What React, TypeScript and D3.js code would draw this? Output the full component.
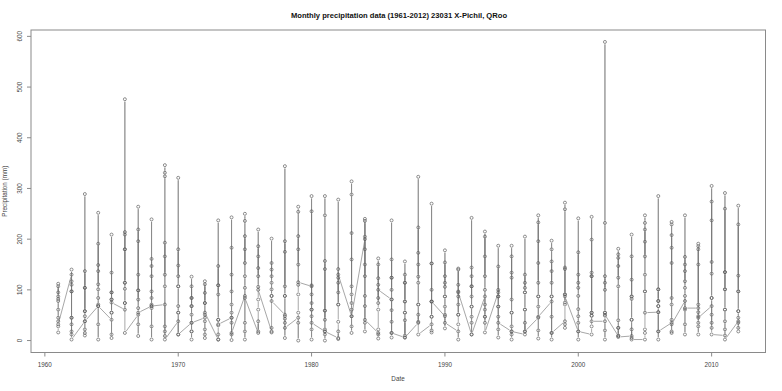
import React, { useEffect, useRef } from 'react';
import * as d3 from 'd3';

// monthly totals (mm), Jan..Dec, one row per year
const rain1960s = [
  [16, 28, 38, 61, 78, 107, 87, 112, 95, 82, 45, 32],
  [130, 18, 12, 32, 45, 140, 117, 97, 110, 97, 45, 2],
  [38, 22, 10, 15, 48, 137, 58, 104, 289, 104, 58, 38],
  [68, 32, 2, 71, 84, 191, 137, 111, 252, 149, 101, 68],
  [41, 12, 5, 55, 81, 134, 95, 81, 209, 95, 55, 75],
  [61, 74, 102, 114, 180, 214, 209, 114, 476, 180, 74, 15],
  [51, 32, 9, 64, 99, 219, 130, 81, 264, 196, 99, 55],
  [68, 28, 2, 64, 97, 161, 127, 84, 239, 147, 71, 68],
  [71, 18, 9, 28, 107, 193, 130, 166, 331, 346, 324, 2],
];
const rain1970s = [
  [38, 12, 55, 68, 107, 180, 127, 148, 321, 107, 55, 12],
  [35, 18, 2, 18, 51, 126, 84, 68, 107, 84, 68, 35],
  [45, 22, 12, 5, 38, 117, 74, 94, 111, 74, 51, 55],
  [2, 12, 2, 30, 41, 147, 91, 109, 237, 109, 41, 32],
  [45, 12, 1, 35, 55, 183, 97, 130, 243, 71, 45, 15],
  [88, 35, 18, 2, 104, 206, 153, 180, 250, 236, 127, 84],
  [15, 38, 18, 61, 81, 186, 143, 127, 219, 166, 106, 100],
  [18, 25, 16, 88, 114, 153, 127, 140, 201, 101, 88, 78],
  [51, 35, 5, 43, 88, 196, 107, 175, 344, 88, 48, 25],
  [45, 35, 0, 55, 91, 206, 150, 180, 264, 254, 110, 115],
];
const rain1980s = [
  [107, 22, 2, 48, 61, 255, 91, 74, 285, 109, 61, 35],
  [18, 12, 0, 22, 59, 157, 141, 41, 285, 247, 59, 18],
  [5, 18, 3, 37, 71, 141, 114, 95, 278, 124, 71, 130],
  [48, 28, 15, 61, 91, 212, 160, 107, 314, 288, 74, 48],
  [200, 68, 18, 35, 88, 236, 150, 127, 240, 205, 180, 41],
  [15, 12, 4, 22, 61, 150, 110, 84, 162, 123, 74, 100],
  [81, 15, 6, 37, 81, 160, 124, 100, 237, 124, 60, 15],
  [6, 40, 10, 55, 77, 130, 114, 77, 156, 114, 55, 6],
  [35, 51, 37, 71, 114, 223, 150, 126, 323, 173, 71, 12],
  [32, 16, 20, 47, 77, 152, 100, 77, 270, 152, 47, 77],
];
const rain1990s = [
  [48, 24, 51, 67, 87, 154, 114, 106, 178, 127, 87, 35],
  [18, 2, 32, 51, 71, 140, 110, 87, 142, 97, 51, 95],
  [12, 35, 47, 67, 107, 144, 127, 87, 242, 107, 67, 12],
  [87, 35, 47, 61, 100, 205, 166, 127, 215, 71, 47, 16],
  [95, 22, 6, 47, 67, 146, 100, 87, 187, 87, 67, 35],
  [18, 12, 2, 28, 55, 166, 124, 81, 187, 134, 55, 18],
  [12, 35, 18, 61, 95, 130, 114, 104, 205, 95, 61, 18],
  [45, 4, 20, 67, 87, 233, 153, 114, 247, 196, 87, 47],
  [77, 15, 2, 47, 87, 156, 137, 114, 197, 180, 87, 15],
  [38, 25, 32, 71, 91, 141, 144, 91, 272, 259, 75, 87],
];
const rain2000s = [
  [18, 2, 35, 48, 62, 174, 130, 104, 241, 114, 88, 18],
  [12, 28, 49, 55, 127, 199, 134, 55, 244, 127, 49, 38],
  [38, 2, 20, 49, 55, 127, 114, 100, 589, 232, 55, 51],
  [9, 25, 10, 40, 107, 170, 124, 147, 181, 163, 25, 7],
  [9, 22, 5, 41, 82, 166, 120, 87, 209, 87, 41, 2],
  [2, 15, 22, 97, 130, 219, 166, 195, 247, 232, 97, 55],
  [56, 2, 18, 68, 78, 285, 101, 78, 101, 68, 56, 18],
  [35, 18, 15, 41, 71, 208, 153, 84, 234, 229, 183, 32],
  [78, 32, 12, 61, 88, 165, 137, 117, 247, 150, 104, 64],
  [64, 28, 12, 35, 56, 186, 150, 71, 191, 180, 48, 45],
];
const rain2010s = [
  [68, 25, 35, 51, 84, 274, 155, 132, 305, 237, 84, 12],
  [10, 22, 38, 61, 101, 260, 135, 101, 291, 135, 61, 2],
  [38, 18, 25, 45, 58, 229, 128, 97, 266, 97, 58, 35],
];

const firstYear = 1961;
const xTicks = [1960, 1970, 1980, 1990, 2000, 2010];
const yTicks = [0, 100, 200, 300, 400, 500, 600];
const title = 'Monthly precipitation data (1961-2012) 23031 X-Pichil, QRoo';

const W = 782;
const H = 391;

const App = () => {
  const svgRef = useRef<SVGSVGElement>(null);

  useEffect(() => {
    const rows = [...rain1960s, ...rain1970s, ...rain1980s, ...rain1990s, ...rain2000s, ...rain2010s];
    const data: { x: number; y: number }[] = [];
    rows.forEach((row, i) => row.forEach(v => data.push({ x: firstYear + i, y: v })));

    const left = 31, right = 765.5, top = 30, bottom = 352.5;

    // R-style 4% axis extension
    const xe = d3.extent(data, d => d.x) as [number, number];
    const ye = d3.extent(data, d => d.y) as [number, number];
    const xp = (xe[1] - xe[0]) * 0.04;
    const yp = (ye[1] - ye[0]) * 0.04;
    const x = d3.scaleLinear().domain([xe[0] - xp, xe[1] + xp]).range([left, right]);
    const y = d3.scaleLinear().domain([ye[0] - yp, ye[1] + yp]).range([bottom, top]);

    const svg = d3.select(svgRef.current);
    svg.selectAll('*').remove();

    const axisCol = '#8a8a8a';
    const textCol = '#444';
    const font = 'Liberation Sans, Arial, sans-serif';

    svg.append('text')
      .attr('x', 399).attr('y', 18)
      .attr('text-anchor', 'middle')
      .attr('font-family', font).attr('font-weight', 'bold')
      .attr('font-size', 7.6).attr('fill', '#111')
      .text(title);

    // type="b": segments with a gap around each point
    const gap = 2.4;
    const g = svg.append('g');
    for (let i = 1; i < data.length; i++) {
      const x1 = x(data[i - 1].x), y1 = y(data[i - 1].y);
      const x2 = x(data[i].x), y2 = y(data[i].y);
      const len = Math.hypot(x2 - x1, y2 - y1);
      if (len <= 2 * gap) continue;
      const ux = (x2 - x1) / len, uy = (y2 - y1) / len;
      g.append('line')
        .attr('x1', x1 + ux * gap).attr('y1', y1 + uy * gap)
        .attr('x2', x2 - ux * gap).attr('y2', y2 - uy * gap)
        .attr('stroke', '#777').attr('stroke-width', 0.65);
    }

    g.selectAll('circle')
      .data(data)
      .join('circle')
      .attr('cx', d => x(d.x))
      .attr('cy', d => y(d.y))
      .attr('r', 1.5)
      .attr('fill', 'none')
      .attr('stroke', '#555')
      .attr('stroke-width', 0.65);

    // box
    svg.append('rect')
      .attr('x', left).attr('y', top)
      .attr('width', right - left).attr('height', bottom - top)
      .attr('fill', 'none').attr('stroke', axisCol).attr('stroke-width', 1);

    // x axis
    const xa = svg.append('g');
    xa.append('line')
      .attr('x1', x(xTicks[0])).attr('x2', x(xTicks[xTicks.length - 1]))
      .attr('y1', bottom).attr('y2', bottom)
      .attr('stroke', axisCol);
    xTicks.forEach(t => {
      xa.append('line')
        .attr('x1', x(t)).attr('x2', x(t))
        .attr('y1', bottom).attr('y2', bottom + 4)
        .attr('stroke', axisCol);
      xa.append('text')
        .attr('x', x(t)).attr('y', bottom + 14)
        .attr('text-anchor', 'middle')
        .attr('font-family', font).attr('font-size', 6.3).attr('fill', textCol)
        .text(t);
    });
    svg.append('text')
      .attr('x', 398).attr('y', 381)
      .attr('text-anchor', 'middle')
      .attr('font-family', font).attr('font-size', 6.3).attr('fill', textCol)
      .text('Date');

    // y axis
    const ya = svg.append('g');
    yTicks.forEach(t => {
      ya.append('line')
        .attr('x1', left - 4).attr('x2', left)
        .attr('y1', y(t)).attr('y2', y(t))
        .attr('stroke', axisCol);
      ya.append('text')
        .attr('transform', `translate(${left - 9},${y(t)}) rotate(-90)`)
        .attr('text-anchor', 'middle')
        .attr('font-family', font).attr('font-size', 6.3).attr('fill', textCol)
        .text(t);
    });
    svg.append('text')
      .attr('transform', `translate(7,${(top + bottom) / 2}) rotate(-90)`)
      .attr('text-anchor', 'middle')
      .attr('font-family', font).attr('font-size', 6.3).attr('fill', textCol)
      .text('Precipitation (mm)');
  }, []);

  return (
    <svg
      ref={svgRef}
      width={W}
      height={H}
      style={{ position: 'absolute', left: 0, top: 0, background: '#fff' }}
    />
  );
};

export default App;
